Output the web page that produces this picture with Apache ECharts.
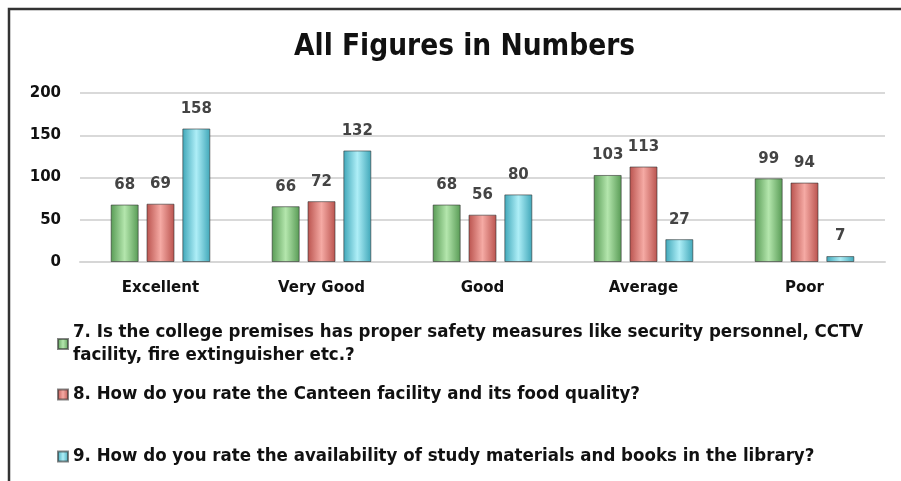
<!DOCTYPE html>
<html>
<head>
<meta charset="utf-8">
<script src="https://cdn.jsdelivr.net/npm/echarts@6/dist/echarts.min.js"></script>
<style>
  html, body { margin: 0; padding: 0; background: #fff; }
  #chart { width: 901px; height: 481px; }
</style>
</head>
<body>
<div id="chart"></div>
<script>
// categories and values
var categories = ['Excellent', 'Very Good', 'Good', 'Average', 'Poor'];
var q7 = [68, 66, 68, 103, 99];
var q8 = [69, 72, 56, 113, 94];
var q9 = [158, 132, 80, 27, 7];
var seriesNames = [
  '7. Is the college premises has proper safety measures like security personnel, CCTV facility, fire extinguisher etc.?',
  '8. How do you rate the Canteen facility and its food quality?',
  '9. How do you rate the availability of study materials and books in the library?'
];

// bar look, dark edges + light middle
function barGrad(edge, mid) {
  return new echarts.graphic.LinearGradient(0, 0, 1, 0, [
    { offset: 0, color: edge },
    { offset: 0.5, color: mid },
    { offset: 1, color: edge }
  ]);
}
var green = barGrad('#579a54', '#b4e6ad');
var red = barGrad('#b9524d', '#f5aaa4');
var cyan = barGrad('#3ea6b8', '#aeeef7');

var labelFont = 'DejaVu Sans, Verdana, sans-serif';
var narrowFont = '"Liberation Sans Narrow", "DejaVu Sans Condensed", "Roboto Condensed", sans-serif';

function makeSeries(name, data, color) {
  return {
    name: name,
    type: 'bar',
    data: data,
    barWidth: 28,
    barGap: '28%',
    itemStyle: { color: color, borderColor: 'rgba(50,50,50,0.6)', borderWidth: 1 },
    label: {
      show: true,
      position: 'top',
      distance: 12,
      color: '#444',
      fontFamily: labelFont,
      fontWeight: 'bold',
      fontSize: 15
    }
  };
}

function makeLegend(idx, top) {
  return {
    data: [seriesNames[idx]],
    left: 52,
    top: top,
    orient: 'vertical',
    itemWidth: 10,
    itemHeight: 10,
    icon: 'rect',
    itemGap: 0,
    selectedMode: false,
    textStyle: {
      fontFamily: narrowFont,
      fontWeight: 'bold',
      fontSize: 18.5,
      color: '#111',
      width: 820,
      overflow: 'break',
      lineHeight: 23
    }
  };
}

var chart = echarts.init(document.getElementById('chart'));
var option = {
  backgroundColor: '#fff',
  animation: false,
  title: {
    text: 'All Figures in Numbers',
    left: 289,
    top: 27,
    textStyle: {
      fontFamily: narrowFont,
      fontWeight: 'bold',
      fontSize: 29.5,
      color: '#111'
    }
  },
  graphic: [{
    type: 'rect',
    shape: { x: 9, y: 9, width: 1000, height: 1000 },
    style: { fill: 'none', stroke: '#333', lineWidth: 2.5 },
    silent: true
  }],
  legend: [makeLegend(0, 316), makeLegend(1, 378), makeLegend(2, 440)],
  grid: { left: 80, right: 16, top: 93, bottom: 219 },
  xAxis: {
    type: 'category',
    data: categories,
    axisTick: { show: false },
    axisLine: { lineStyle: { color: '#d6d6d6', width: 2 } },
    axisLabel: {
      margin: 19,
      color: '#111',
      fontFamily: labelFont,
      fontWeight: 'bold',
      fontSize: 15
    }
  },
  yAxis: {
    type: 'value',
    min: 0,
    max: 200,
    interval: 50,
    axisLabel: {
      margin: 19,
      color: '#111',
      fontFamily: labelFont,
      fontWeight: 'bold',
      fontSize: 15
    },
    splitLine: { lineStyle: { color: '#d9d9d9', width: 2 } }
  },
  series: [
    makeSeries(seriesNames[0], q7, green),
    makeSeries(seriesNames[1], q8, red),
    makeSeries(seriesNames[2], q9, cyan)
  ]
};
chart.setOption(option);
</script>
</body>
</html>
